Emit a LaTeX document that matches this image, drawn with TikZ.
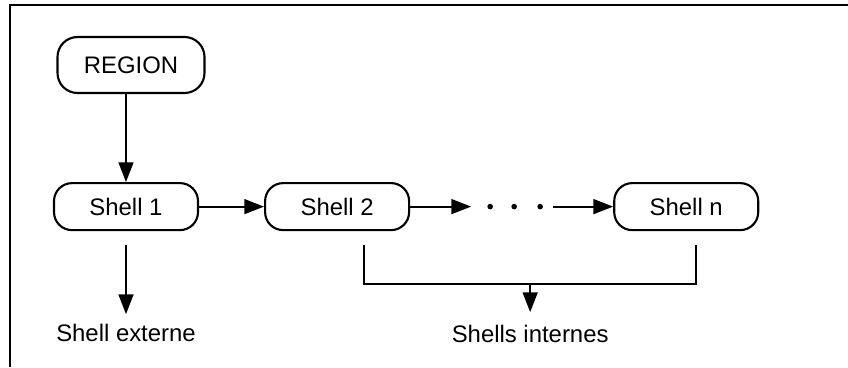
\documentclass[tikz,border=0pt]{standalone}
\usepackage{fontspec}
\setmainfont{Liberation Sans}
\usetikzlibrary{arrows.meta,positioning,calc}
\tikzset{
    %Define standard arrow tip
    >={Triangle[length=14pt,width=10.5pt]},
    %Define style for boxes
    boite/.style={
           rectangle,
           rounded corners=0.45cm,
           draw=black, line width=1.5pt,
           minimum width=3.6cm,
           minimum height=1.175cm,
           font=\fontsize{17}{20}\selectfont},
    % Define arrow style
    fleche/.style={
           ->,
           line width=1.4pt},
    % Define style for free labels
    legende/.style={
           inner sep=2pt,
           font=\fontsize{17}{20}\selectfont}
}

\begin{document}
\begin{tikzpicture}
 \useasboundingbox (0,0) rectangle (21.2,-9.175);
 % frame
 \draw[line width=2pt] (0.25,-9.175) -- (0.25,-0.125) -- (21.2,-0.125);
 %nodes
 \node[boite, minimum width=3.675cm, minimum height=1.4cm, rounded corners=0.5cm]
   (region) at (3.275,-1.625) {REGION};
 \node[boite, below=2.2cm of region, xshift=-0.125cm] (shell1) {Shell 1};
 \node[boite, right=1.625cm of shell1] (shell2) {Shell 2};
 \node[boite, right=5.075cm of shell2] (shelln) {Shell n};
 \node[legende, below=2.25cm of shell1] (ext) {Shell externe};
 % arrows along the chain
 \draw[fleche] (region.south -| shell1) -- (shell1);
 \draw[fleche] (shell1) -- (shell2);
 \coordinate[right=1.525cm of shell2.east] (dd);
 \draw[fleche] (shell2) -- (dd);
 \foreach \dx in {0.475,1.075,1.725}
   \fill ([xshift=\dx cm]dd) circle (0.07);
 \coordinate (ds) at ([xshift=2.05cm]dd);
 \draw[fleche] (ds) -- (shelln);
 % outer shell
 \draw[fleche, shorten <=0.35cm, shorten >=0.175cm] (shell1) -- (ext);
 % inner shells
 \coordinate (b1) at ([xshift=0.675cm,yshift=-0.35cm]shell2.south);
 \coordinate (b2) at ([xshift=0.25cm,yshift=-0.35cm]shelln.south);
 \coordinate (bj) at ($(b1)!0.5!(b2)+(0,-0.975)$);
 \node[legende, below=0.95cm of bj] (int) {Shells internes};
 \draw[line width=1.4pt] (b1) |- (bj) -| (b2);
 \draw[fleche, shorten >=0.25cm] (bj) -- (int);
\end{tikzpicture}
\end{document}
